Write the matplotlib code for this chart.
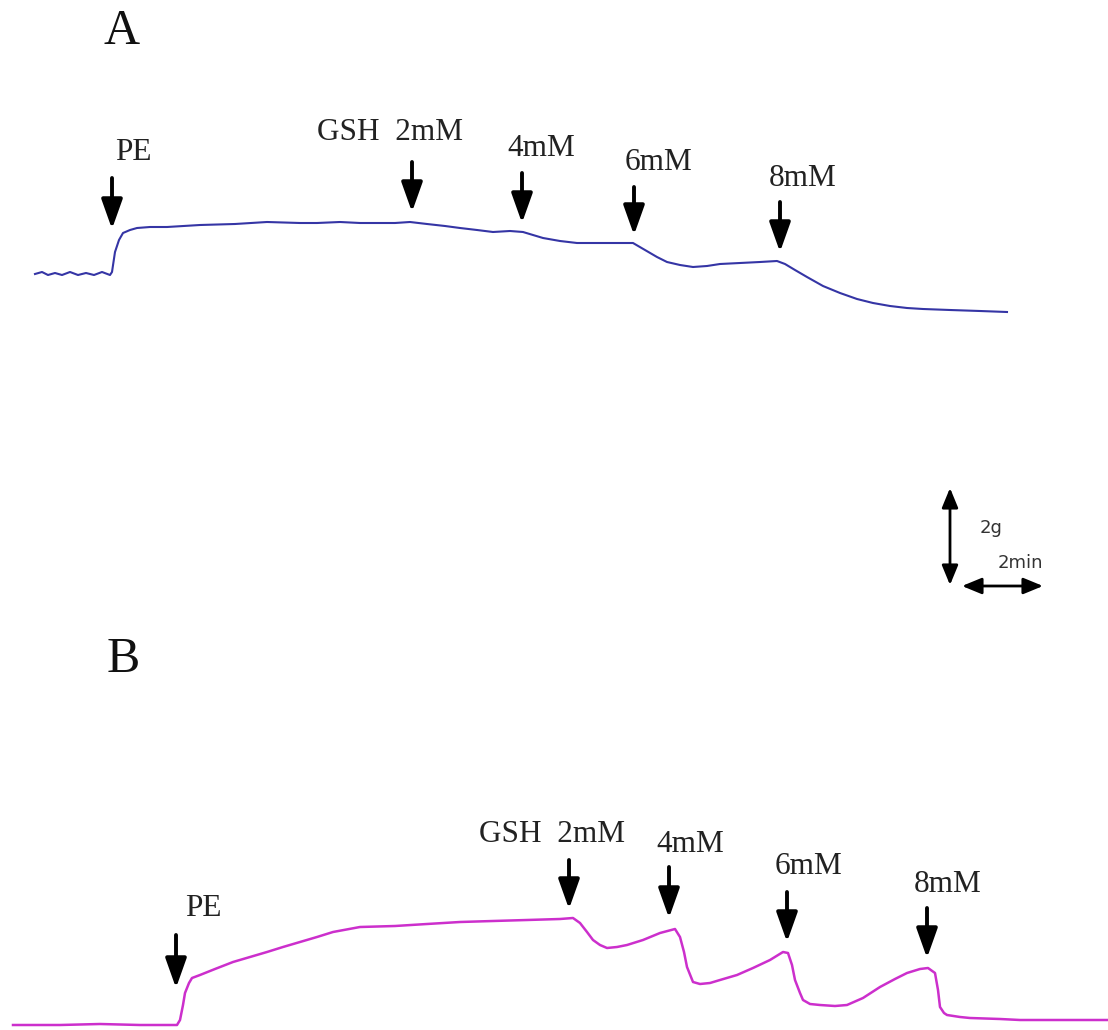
import matplotlib.pyplot as plt

# panel A trace (blue), figure pixel coords: x to the right, y downward
trace_a_x = [35, 42, 48, 55, 62, 70, 78, 86, 94, 102, 110, 112, 115, 119, 123, 130, 137,
             150, 167, 200, 235, 267, 300, 317, 340, 360, 395, 410, 427, 445, 460, 477,
             493, 510, 523, 533, 543, 560, 577, 600, 620, 633, 645, 657, 667, 680, 693,
             707, 720, 740, 760, 777, 785, 795, 807, 823, 840, 857, 873, 890, 907, 923,
             950, 980, 1007]
trace_a_y = [274, 272, 275, 273, 275, 272, 275, 273, 275, 272, 275, 272, 252, 240, 233, 230, 228,
             227, 227, 225, 224, 222, 223, 223, 222, 223, 223, 222, 224, 226, 228, 230,
             232, 231, 232, 235, 238, 241, 243, 243, 243, 243, 250, 257, 262, 265, 267,
             266, 264, 263, 262, 261, 264, 270, 277, 286, 293, 299, 303, 306, 308, 309,
             310, 311, 312]

# panel B trace (magenta)
trace_b_x = [13, 60, 100, 140, 177, 180, 183, 185, 189, 192, 200, 215, 233, 250, 267, 283,
             300, 317, 333, 360, 395, 427, 460, 493, 527, 560, 573, 580, 587, 593, 600,
             607, 617, 627, 643, 660, 675, 680, 684, 687, 693, 700, 710, 720, 737, 753,
             770, 783, 788, 792, 795, 800, 803, 810, 820, 835, 847, 863, 880, 895, 907,
             920, 928, 935, 938, 940, 944, 947, 960, 970, 1000, 1020, 1060, 1107]
trace_b_y = [1025, 1025, 1024, 1025, 1025, 1020, 1005, 993, 983, 978, 975, 969, 962, 957, 952, 947,
             942, 937, 932, 927, 926, 924, 922, 921, 920, 919, 918, 923, 932, 940, 945,
             948, 947, 945, 940, 933, 929, 937, 952, 967, 982, 984, 983, 980, 975, 968,
             960, 952, 953, 965, 980, 993, 1000, 1004, 1005, 1006, 1005, 998, 987, 979, 973,
             969, 968, 973, 990, 1007, 1013, 1015, 1017, 1018, 1019, 1020, 1020, 1020]

# drug additions: arrow x, arrow top, arrow tip
arrows_a_x = [112, 412, 522, 634, 780]
arrows_a_top = [178, 162, 173, 187, 202]
arrows_a_tip = [229, 212, 223, 235, 252]
arrows_b_x = [176, 569, 669, 787, 927]
arrows_b_top = [935, 860, 867, 892, 908]
arrows_b_tip = [988, 909, 918, 942, 958]

# labels: text, x centre, y centre
labels_a = ["PE", "GSH  2mM", "4mM", "6mM", "8mM"]
labels_a_x = [133, 390, 541, 658, 803]
labels_a_y = [153, 133, 149, 162, 178]
labels_b = ["PE", "GSH  2mM", "4mM", "6mM", "8mM"]
labels_b_x = [203, 552, 690, 809, 948]
labels_b_y = [908, 834, 845, 866, 885]

fig = plt.figure(figsize=(11.08, 10.30), dpi=100)
ax = fig.add_axes([0, 0, 1, 1])
ax.set_xlim(0, 1108)
ax.set_ylim(1030, 0)
ax.axis("off")

serif = "Liberation Serif"

ax.plot(trace_a_x, trace_a_y, color="#3535a5", lw=1.5, solid_joinstyle="round")
ax.plot(trace_b_x, trace_b_y, color="#cc2fcc", lw=1.8, solid_joinstyle="round")

arrow_kw = dict(arrowstyle="-|>,head_width=0.32,head_length=0.9", lw=2.8,
                color="black", shrinkA=0, shrinkB=0, mutation_scale=20)
for xs, tops, tips in [(arrows_a_x, arrows_a_top, arrows_a_tip),
                       (arrows_b_x, arrows_b_top, arrows_b_tip)]:
    for x, t0, t1 in zip(xs, tops, tips):
        ax.annotate("", xy=(x, t1), xytext=(x, t0), arrowprops=arrow_kw)

for txts, xs, ys in [(labels_a, labels_a_x, labels_a_y), (labels_b, labels_b_x, labels_b_y)]:
    for t, x, y in zip(txts, xs, ys):
        ax.text(x, y, t, ha="center", va="center", fontsize=22.5, family=serif, color="#222222")

# panel letters
ax.text(122, 32, "A", ha="center", va="center", fontsize=36, family=serif, color="#111111")
ax.text(123, 660, "B", ha="center", va="center", fontsize=36, family=serif, color="#111111")

# scale bar
bar_kw = dict(arrowstyle="<|-|>,head_width=0.35,head_length=0.85", lw=2.0,
              color="black", shrinkA=0, shrinkB=0, mutation_scale=14)
ax.annotate("", xy=(950, 488), xytext=(950, 585), arrowprops=bar_kw)
ax.annotate("", xy=(962, 586), xytext=(1043, 586), arrowprops=bar_kw)
ax.text(980, 528, "2g", ha="left", va="center", fontsize=13, family="DejaVu Sans", color="#333333")
ax.text(998, 563, "2min", ha="left", va="center", fontsize=13, family="DejaVu Sans", color="#333333")

fig.savefig("out.png", dpi=100, facecolor="white")
